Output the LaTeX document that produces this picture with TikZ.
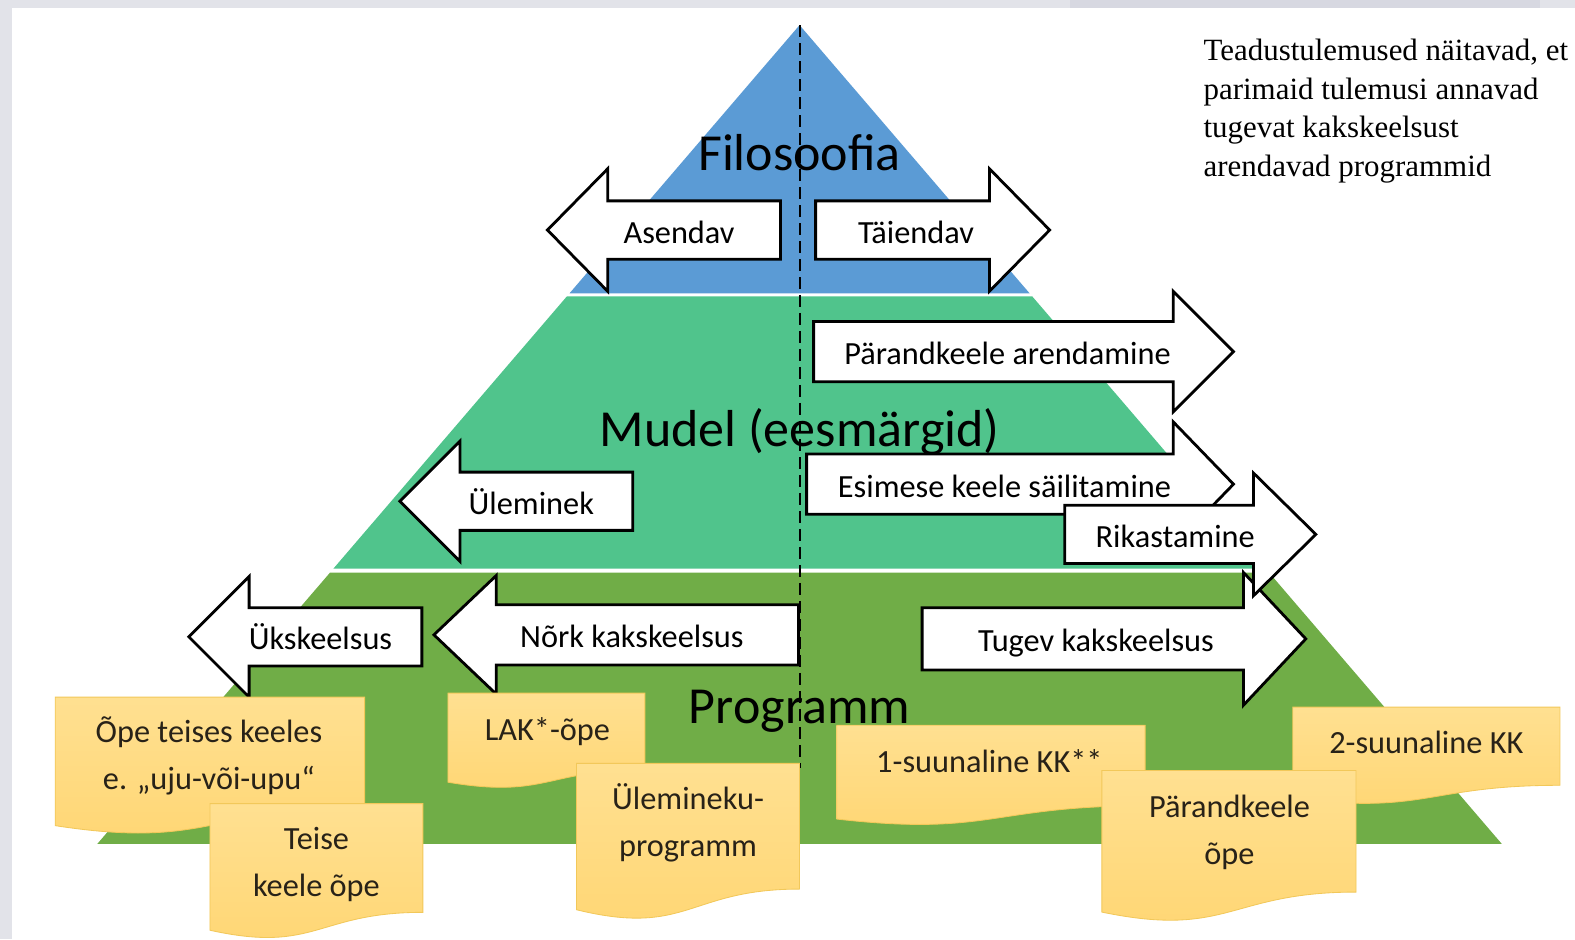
\documentclass[tikz,border=0pt]{standalone}
\usepackage{fontspec}
\setmainfont{Carlito}
\newfontfamily\notefont{Liberation Serif}

\definecolor{pagegray}{RGB}{226,227,233}
\definecolor{bargray}{RGB}{215,216,225}
\definecolor{philblue}{RGB}{91,155,213}
\definecolor{modelgreen}{RGB}{80,196,140}
\definecolor{proggreen}{RGB}{112,173,71}
\definecolor{docTop}{RGB}{255,214,115}
\definecolor{docBottom}{RGB}{255,224,145}
\definecolor{docEdge}{RGB}{242,200,90}
\definecolor{docText}{RGB}{40,34,24}

% flat end x, head base x, tip x, centre y, half body, half head
\newcommand\blockarrow[6]{%
  \draw[arrowbox] ({#1},{#4-#5}) -- ({#2},{#4-#5}) -- ({#2},{#4-#6}) -- ({#3},{#4})
    -- ({#2},{#4+#6}) -- ({#2},{#4+#5}) -- ({#1},{#4+#5}) -- cycle;}
% left x, top y, right x, height
\newcommand\docshape[4]{%
  \path[docfill] ({#1},{#2}) -- ({#3},{#2}) -- ({#3},{#2+0.802*#4})
    .. controls ({(#1+#3)/2},{#2+0.802*#4}) and ({(#1+#3)/2},{#2+1.108*#4}) .. ({#1},{#2+0.934*#4}) -- cycle;}

\begin{document}
\begin{tikzpicture}[x=0.02511cm, y=-0.02511cm,
    arrowbox/.style={draw=black, fill=white, line width=2pt, line join=miter},
    arrowlabel/.style={font=\fontsize{23}{28}\selectfont, anchor=base, inner sep=0pt},
    layerlabel/.style={font=\fontsize{37}{44}\selectfont, anchor=base, inner sep=0pt},
    midline/.style={line width=1.4pt, dash pattern=on 8.5pt off 4.3pt},
    docfill/.style={draw=docEdge, line width=0.6pt, top color=docBottom, bottom color=docTop},
    doctext/.style={font=\fontsize{23}{33.5}\selectfont, align=center, anchor=base, inner sep=0pt, text=docText}]
  \useasboundingbox (0,0) rectangle (1568,935);
  % page
  \fill[pagegray] (0,0) rectangle (1568,935);
  \fill[white] (12,8) rectangle (1568,935);
  \fill[bargray] (1065,0) rectangle (1533,8);
  % pyramid
  \coordinate (apex) at (796,25);
  \fill[philblue] (apex) -- (1025,292) -- (567,292) -- cycle;
  \fill[modelgreen] (564.4,295) -- (1027.6,295) -- (1260,566) -- (332,566) -- cycle;
  \fill[proggreen] (328.6,570) -- (1263.4,570) -- (1495,840) -- (97,840) -- cycle;
  \node[layerlabel] (filosoofia) at (796,170) {Filosoofia};
  \node[layerlabel] (mudel) at (796,445) {Mudel (eesmärgid)};
  \node[layerlabel] (programm) at (796,720) {Programm};
  \coordinate (dashend) at (796,765);
  \draw[midline] (apex) -- (dashend);
  % arrows
  \blockarrow{777}{605}{545}{229}{29}{61}
  \node[arrowlabel] (asendav) at (676,242) {Asendav};
  \blockarrow{812}{985}{1045}{229}{29}{61}
  \node[arrowlabel] (taiendav) at (912,242) {Täiendav};
  \blockarrow{810}{1168}{1228}{350}{30}{60}
  \node[arrowlabel] (arendamine) at (1003,363) {Pärandkeele arendamine};
  \blockarrow{803}{1168}{1228}{482}{30}{62}
  \node[arrowlabel] (sailitamine) at (1000,495) {Esimese keele säilitamine};
  \blockarrow{630}{458}{398}{499}{29}{60}
  \node[arrowlabel] (uleminek) at (529,512) {Üleminek};
  \blockarrow{420}{248}{188}{634}{29}{60}
  \node[arrowlabel] (ukskeelsus) at (319,647) {Ükskeelsus};
  \blockarrow{795}{494}{432}{632}{30}{59}
  \node[arrowlabel] (nork) at (629,645) {Nõrk kakskeelsus};
  \blockarrow{918}{1238}{1300}{636}{31}{66}
  \node[arrowlabel] (tugev) at (1091,649) {Tugev kakskeelsus};
  \blockarrow{1060}{1248}{1310}{532}{29}{61}
  \node[arrowlabel] (rikastamine) at (1170,545) {Rikastamine};
  % programmes (base = last line)
  \docshape{55}{694}{363}{137}
  \node[doctext] (teiseskeeles) at (208,786) {Õpe teises keeles\\e. „uju-või-upu“};
  \docshape{209}{800}{421}{135}
  \node[doctext] (teisekeele) at (315,893) {Teise\\keele õpe};
  \docshape{446}{690}{642}{95}
  \node[doctext] (lak) at (545,737) {LAK*-õpe};
  \docshape{574}{760}{796}{156}
  \node[doctext] (ulemineku) at (685,853) {Ülemineku-\\programm};
  \docshape{833}{722}{1140}{100}
  \node[doctext] (yhesuunaline) at (985,769) {1-suunaline KK**};
  \docshape{1287}{704}{1553}{97}
  \node[doctext] (kahesuunaline) at (1420,750) {2-suunaline KK};
  \docshape{1097}{767}{1350}{151}
  \node[doctext] (parandkeele) at (1224,861) {Pärandkeele\\õpe};
  % note
  \node[font=\notefont\fontsize{22}{27.4}\selectfont, align=left, anchor=north west, inner sep=0pt]
    (note) at (1198,39) {Teadustulemused näitavad, et\\parimaid tulemusi annavad\\tugevat kakskeelsust\\arendavad programmid};
\end{tikzpicture}
\end{document}
